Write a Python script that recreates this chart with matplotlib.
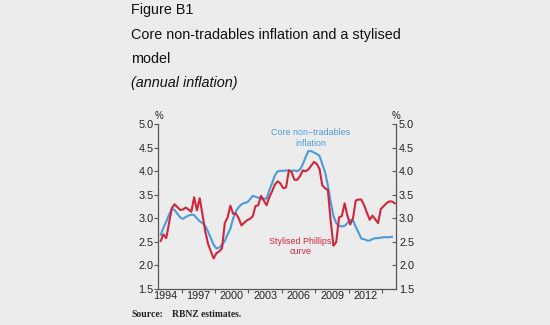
import matplotlib
matplotlib.use("Agg")
import matplotlib.pyplot as plt
import numpy as np

# ---- data (quarterly) ----
core_start = 1994.125
core_nt = [2.65, 2.80, 2.93, 3.08, 3.20, 3.18, 3.10, 3.02,
           2.99, 3.03, 3.06, 3.08, 3.07, 3.00, 2.94, 2.90,
           2.84, 2.72, 2.58, 2.44, 2.36, 2.38, 2.44, 2.52,
           2.66, 2.78, 3.00, 3.15, 3.24, 3.30, 3.33, 3.34,
           3.40, 3.48, 3.46, 3.44, 3.42, 3.42, 3.42, 3.60,
           3.75, 3.92, 4.00, 4.01, 4.01, 4.02, 4.02, 4.01,
           4.02, 4.00, 4.04, 4.15, 4.30, 4.43, 4.43, 4.40,
           4.37, 4.33, 4.15, 3.98, 3.70, 3.35, 3.05, 2.90,
           2.84, 2.83, 2.84, 2.90, 2.97, 2.96, 2.82, 2.70,
           2.57, 2.56, 2.53, 2.53, 2.56, 2.58, 2.58, 2.59,
           2.60, 2.60, 2.60, 2.61]
phillips_start = 1994.125
phillips = [2.52, 2.66, 2.58, 2.90, 3.22, 3.30, 3.24, 3.18,
            3.19, 3.23, 3.19, 3.14, 3.45, 3.17, 3.43, 3.08,
            2.72, 2.46, 2.30, 2.15, 2.26, 2.30, 2.36, 2.90,
            3.02, 3.27, 3.10, 3.10, 3.00, 2.85, 2.91, 2.96,
            2.99, 3.04, 3.26, 3.28, 3.48, 3.38, 3.28, 3.45,
            3.58, 3.72, 3.79, 3.74, 3.64, 3.66, 4.02, 3.98,
            3.82, 3.82, 3.90, 4.02, 4.00, 4.04, 4.12, 4.20,
            4.16, 4.05, 3.70, 3.64, 3.60, 2.95, 2.42, 2.50,
            3.02, 3.05, 3.32, 3.06, 2.87, 3.00, 3.38, 3.40,
            3.40, 3.28, 3.12, 2.97, 3.06, 2.98, 2.90, 3.20,
            3.26, 3.32, 3.36, 3.36, 3.32]
year_labels = ["1994", "1997", "2000", "2003", "2006", "2009", "2012"]
y_ticks = [1.5, 2.0, 2.5, 3.0, 3.5, 4.0, 4.5, 5.0]

x_core = core_start + 0.25 * np.arange(len(core_nt))
x_ph = phillips_start + 0.25 * np.arange(len(phillips))

BG = "#ececec"
BLUE = "#4b9bd9"
RED = "#d0263c"
AXC = "#555555"
TXT = "#222222"

plt.rcParams['font.family'] = ['Liberation Sans', 'DejaVu Sans']

fig = plt.figure(figsize=(5.5, 3.25), dpi=100, facecolor=BG)
ax = fig.add_axes([0.288, 0.1108, 0.4325, 0.5068])
ax.set_facecolor(BG)

ax.plot(x_core, core_nt, color=BLUE, lw=1.5, solid_joinstyle='round')
ax.plot(x_ph, phillips, color=RED, lw=1.5, solid_joinstyle='round')

ax.set_xlim(1993.92, 2015.26)
ax.set_ylim(1.5, 5.0)

for s in ['left', 'right', 'bottom']:
    ax.spines[s].set_color(AXC)
    ax.spines[s].set_linewidth(0.9)
ax.spines['top'].set_visible(False)

# y axis left
ax.set_yticks(y_ticks)
ax.set_yticklabels([f"{v:.1f}" for v in y_ticks])
ax.tick_params(axis='y', direction='out', length=3, width=0.8, color=AXC,
               labelsize=7.8, labelcolor=TXT, pad=0.5)
# right axis
ax2 = ax.twinx()
ax2.set_ylim(1.5, 5.0)
ax2.set_yticks(y_ticks)
ax2.set_yticklabels([f"{v:.1f}" for v in y_ticks])
ax2.tick_params(axis='y', direction='in', length=3, width=0.8, color=AXC,
                labelsize=7.8, labelcolor=TXT, pad=2)
for s in ['left', 'right', 'bottom', 'top']:
    ax2.spines[s].set_visible(False)

# x axis: ticks every 3 years, labels centered mid-year
label_years = [int(y) for y in year_labels]
ax.set_xticks([y + 2 for y in label_years])
ax.set_xticks([y + 0.5 for y in label_years], minor=True)
ax.set_xticklabels([])
ax.set_xticklabels(year_labels, minor=True)
ax.tick_params(axis='x', which='major', direction='out', length=3, width=0.8, color=AXC)
ax.tick_params(axis='x', which='minor', length=0, labelsize=7.8, labelcolor=TXT, pad=1.5)

# % labels
fig.text(159 / 550, 1 - 116 / 325, "%", ha='center', va='center', fontsize=7, color=TXT)
fig.text(395.6 / 550, 1 - 116 / 325, "%", ha='center', va='center', fontsize=7, color=TXT)

# series labels
fig.text(310.8 / 550, 1 - 132.7 / 325, "Core non\u2212tradables", ha='center', va='center',
         fontsize=6.4, color=BLUE)
fig.text(310.8 / 550, 1 - 143.3 / 325, "inflation", ha='center', va='center',
         fontsize=6.4, color=BLUE)
fig.text(300.6 / 550, 1 - 242 / 325, "Stylised Phillips", ha='center', va='center',
         fontsize=6.4, color=RED)
fig.text(300.6 / 550, 1 - 251.3 / 325, "curve", ha='center', va='center',
         fontsize=6.4, color=RED)

# titles
tx = 131 / 550
fs_t = 10.4
fig.text(tx, 1 - 14 / 325, "Figure B1", ha='left', va='baseline', fontsize=fs_t, color="#111111")
fig.text(tx, 1 - 38.5 / 325, "Core non-tradables inflation and a stylised", ha='left',
         va='baseline', fontsize=fs_t, color="#111111")
fig.text(tx, 1 - 63 / 325, "model", ha='left', va='baseline', fontsize=fs_t, color="#111111")
fig.text(tx, 1 - 87 / 325, "(annual inflation)", ha='left', va='baseline', fontsize=fs_t,
         style='italic', color="#111111")

# source
fig.text(tx, 1 - 314.7 / 325, "Source:", ha='left', va='center', fontsize=6.9,
         family='Liberation Serif', weight='bold', color="#222222")
fig.text(172 / 550, 1 - 314.7 / 325, "RBNZ estimates.", ha='left', va='center', fontsize=6.9,
         family='Liberation Serif', weight='bold', color="#222222")

fig.savefig("out.png", dpi=100, facecolor=BG)
